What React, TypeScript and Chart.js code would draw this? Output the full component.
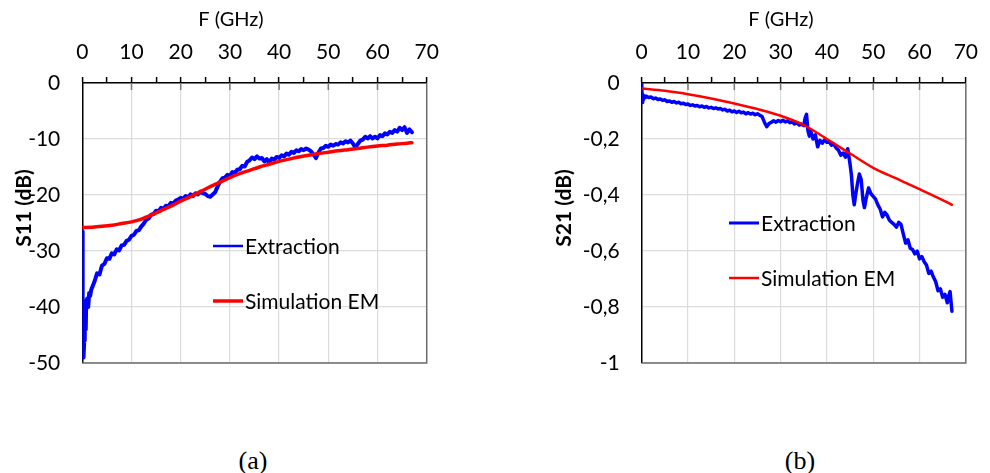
import React, { useEffect, useRef } from 'react';
import { Chart, registerables } from 'chart.js';

Chart.register(...registerables);

// ---------- data ----------
const freqTickLabels = ['0', '10', '20', '30', '40', '50', '60', '70'];
const s11TickLabels = ['0', '-10', '-20', '-30', '-40', '-50'];
const s21TickLabels = ['0', '-0,2', '-0,4', '-0,6', '-0,8', '-1'];
const seriesLabels = ['Extraction', 'Simulation EM'];

// S11 simulation EM [GHz, dB]
const s11Simulation: [number, number][] = [
  [0, -25.8], [2, -25.75], [4, -25.6], [6, -25.4], [8, -25.1], [10, -24.8], [12, -24.3],
  [14, -23.6], [16, -22.8], [18, -22.0], [20, -21.1], [22, -20.3], [24, -19.4], [26, -18.5],
  [28, -17.7], [30, -16.9], [32, -16.2], [34, -15.6], [36, -15.0], [38, -14.5], [40, -14.0],
  [42, -13.6], [44, -13.2], [46, -12.9], [48, -12.6], [50, -12.35], [52, -12.1], [54, -11.9],
  [56, -11.7], [58, -11.45], [60, -11.25], [62, -11.1], [64, -10.9], [66, -10.75], [67, -10.65],
];

// S11 extraction [GHz, dB]
const s11Extraction: [number, number][] = [
  [0, -26.5], [0.05, -30], [0.1, -38], [0.15, -44], [0.2, -48.5], [0.3, -49], [0.4, -46],
  [0.5, -42], [0.6, -40], [0.7, -44], [0.8, -39], [1.0, -38.5], [1.2, -40], [1.4, -37.5],
  [1.6, -38], [1.8, -37], [2, -36.5], [2.5, -35.4], [3, -34.0], [3.5, -34.2], [4, -32.6],
  [4.5, -32.3], [5, -31.3], [5.5, -31.4], [6, -30.4], [6.5, -30.6], [7, -29.7], [7.5, -29.9],
  [8, -29.0], [8.5, -28.9], [9, -28.2], [9.5, -28.0], [10, -27.3], [10.5, -27.1], [11, -26.4],
  [11.5, -26.3], [12, -25.6], [12.5, -25.1], [13, -24.4], [13.5, -24.2], [14, -23.5],
  [14.5, -23.4], [15, -22.8], [15.5, -22.9], [16, -22.3], [16.5, -22.5], [17, -21.9],
  [17.5, -22.0], [18, -21.4], [18.5, -21.5], [19, -21.0], [19.5, -20.8], [20, -20.5],
  [20.5, -20.7], [21, -20.2], [21.5, -20.4], [22, -19.9], [22.5, -20.2], [23, -19.7],
  [23.5, -19.9], [24, -19.4], [24.5, -19.7], [25, -19.8], [25.5, -20.2], [26, -20.3],
  [26.5, -19.9], [27, -19.5], [27.5, -18.5], [28, -17.6], [28.5, -17.0], [29, -16.9],
  [29.5, -16.4], [30, -16.6], [30.5, -15.9], [31, -16.1], [31.5, -15.5], [32, -15.4],
  [32.5, -14.8], [33, -14.9], [33.5, -14.1], [34, -13.8], [34.5, -13.3], [35, -13.6],
  [35.5, -13.1], [36, -13.5], [36.5, -13.4], [37, -14.0], [37.5, -13.6], [38, -14.2],
  [38.5, -13.5], [39, -13.7], [39.5, -13.2], [40, -13.4], [40.5, -12.9], [41, -13.1],
  [41.5, -12.6], [42, -12.8], [42.5, -12.3], [43, -12.5], [43.5, -12.0], [44, -12.2],
  [44.5, -11.8], [45, -12.0], [45.5, -11.7], [46, -11.9], [46.5, -12.2], [47, -12.8],
  [47.5, -13.4], [48, -12.4], [48.5, -11.7], [49, -11.6], [49.5, -11.2], [50, -11.4],
  [50.5, -11.0], [51, -11.2], [51.5, -10.9], [52, -11.0], [52.5, -10.6], [53, -10.8],
  [53.5, -10.4], [54, -10.6], [54.5, -10.3], [55, -10.8], [55.5, -11.5], [56, -10.9],
  [56.5, -10.3], [57, -10.1], [57.5, -9.6], [58, -9.9], [58.5, -9.5], [59, -9.9],
  [59.5, -9.6], [60, -9.9], [60.5, -9.3], [61, -9.5], [61.5, -9.0], [62, -9.2], [62.5, -8.7],
  [63, -8.9], [63.5, -8.4], [64, -8.7], [64.5, -8.0], [65, -8.4], [65.5, -7.9], [66, -8.9],
  [66.5, -8.3], [67, -8.8],
];

// S21 simulation EM [GHz, dB]
const s21Simulation: [number, number][] = [
  [0, -0.02], [5, -0.028], [10, -0.04], [15, -0.055], [20, -0.073], [25, -0.093],
  [30, -0.117], [35, -0.15], [40, -0.2], [45, -0.252], [50, -0.303], [55, -0.341],
  [60, -0.379], [65, -0.418], [67, -0.435],
];

// S21 extraction [GHz, dB]
const s21Extraction: [number, number][] = [
  [0, -0.0], [0.1, -0.07], [0.2, -0.04], [0.3, -0.062], [0.5, -0.045], [0.8, -0.052],
  [1, -0.047], [1.5, -0.052], [2, -0.05], [2.5, -0.056], [3, -0.054], [3.5, -0.059],
  [4, -0.057], [4.5, -0.062], [5, -0.06], [5.5, -0.066], [6, -0.064], [6.5, -0.069],
  [7, -0.066], [7.5, -0.071], [8, -0.069], [8.5, -0.074], [9, -0.072], [9.5, -0.077],
  [10, -0.075], [10.5, -0.08], [11, -0.078], [11.5, -0.082], [12, -0.08], [12.5, -0.085],
  [13, -0.082], [13.5, -0.087], [14, -0.084], [14.5, -0.089], [15, -0.087], [15.5, -0.091],
  [16, -0.089], [16.5, -0.093], [17, -0.091], [17.5, -0.096], [18, -0.094], [18.5, -0.1],
  [19, -0.097], [19.5, -0.103], [20, -0.1], [20.5, -0.105], [21, -0.101], [21.5, -0.106],
  [22, -0.104], [22.5, -0.11], [23, -0.106], [23.5, -0.111], [24, -0.108], [24.5, -0.113],
  [25, -0.11], [25.5, -0.115], [26, -0.12], [26.5, -0.14], [27, -0.156], [27.5, -0.145],
  [28, -0.14], [28.5, -0.135], [29, -0.14], [29.5, -0.134], [30, -0.138], [30.5, -0.133],
  [31, -0.139], [31.5, -0.135], [32, -0.142], [32.5, -0.138], [33, -0.146], [33.5, -0.142],
  [34, -0.15], [34.5, -0.147], [35, -0.152], [35.3, -0.125], [35.6, -0.112], [35.9, -0.17],
  [36.2, -0.19], [36.5, -0.17], [37, -0.2], [37.5, -0.185], [38, -0.228], [38.5, -0.205],
  [39, -0.215], [39.5, -0.203], [40, -0.212], [40.5, -0.21], [41, -0.222], [41.5, -0.218],
  [42, -0.232], [42.5, -0.24], [43, -0.258], [43.5, -0.25], [44, -0.265], [44.5, -0.235],
  [45, -0.29], [45.3, -0.33], [45.6, -0.4], [45.9, -0.435], [46.2, -0.4], [46.6, -0.36],
  [47, -0.325], [47.4, -0.345], [47.8, -0.42], [48.1, -0.445], [48.5, -0.41], [49, -0.375],
  [49.5, -0.395], [50, -0.405], [50.5, -0.415], [51, -0.435], [51.5, -0.45], [52, -0.478],
  [52.5, -0.462], [53, -0.472], [53.5, -0.49], [54, -0.498], [54.5, -0.505], [55, -0.515],
  [55.5, -0.498], [56, -0.505], [56.5, -0.54], [57, -0.572], [57.5, -0.56], [58, -0.59],
  [58.5, -0.595], [59, -0.61], [59.5, -0.6], [60, -0.628], [60.5, -0.62], [61, -0.638],
  [61.5, -0.65], [62, -0.68], [62.5, -0.672], [63, -0.693], [63.5, -0.71], [64, -0.742],
  [64.5, -0.735], [65, -0.765], [65.5, -0.755], [66, -0.785], [66.3, -0.76], [66.6, -0.745],
  [67, -0.815],
];

// ---------- styling / drawing ----------
const FONT = 'Lato, "Open Sans", "DejaVu Sans", sans-serif';
const FONT_SIZE = 21;

const decorPlugin = {
  id: 'decor',
  afterDraw(chart: any, _args: any, opts: any) {
    const ctx = chart.ctx as CanvasRenderingContext2D;
    const { left, right, top, bottom } = chart.chartArea;
    const xs = chart.scales.x;
    ctx.save();
    // bottom / right frame
    ctx.strokeStyle = '#6e6e6e';
    ctx.lineWidth = 1.5;
    ctx.beginPath();
    ctx.moveTo(left, bottom);
    ctx.lineTo(right, bottom);
    ctx.lineTo(right, top);
    ctx.stroke();
    // inner part of major ticks
    ctx.strokeStyle = '#7a7a7a';
    ctx.lineWidth = 1.5;
    for (const t of xs.ticks) {
      if (t.value % 10 === 0 && t.value > 0 && t.value < 70) {
        const px = xs.getPixelForValue(t.value);
        ctx.beginPath();
        ctx.moveTo(px, top);
        ctx.lineTo(px, top + 7);
        ctx.stroke();
      }
    }
    ctx.fillStyle = '#000';
    ctx.textAlign = 'center';
    ctx.textBaseline = 'middle';
    // x title
    ctx.font = `20px ${FONT}`;
    ctx.fillText(opts.xTitle, opts.xTitleX, opts.xTitleY);
    // y title
    ctx.save();
    ctx.translate(opts.yTitleX, opts.yTitleY);
    ctx.rotate(-Math.PI / 2);
    ctx.font = `bold 21px ${FONT}`;
    ctx.fillText(opts.yTitle, 0, 0);
    ctx.restore();
    // legend
    ctx.font = `${FONT_SIZE}px ${FONT}`;
    ctx.textAlign = 'left';
    chart.data.datasets.forEach((ds: any, i: number) => {
      const y = opts.legendY[i];
      ctx.strokeStyle = ds.borderColor;
      ctx.lineWidth = opts.legendWidth[i];
      ctx.beginPath();
      ctx.moveTo(opts.legendX1, y);
      ctx.lineTo(opts.legendX2, y);
      ctx.stroke();
      ctx.fillStyle = '#000';
      ctx.fillText(ds.label, opts.legendTextX, y + 1);
    });
    ctx.restore();
  },
};

interface PanelCfg {
  ext: [number, number][];
  sim: [number, number][];
  extWidth: number;
  simWidth: number;
  yMin: number;
  yStep: number;
  yLabels: string[];
  yAxisWidth: number;
  padRight: number;
  decor: any;
}

function buildChart(canvas: HTMLCanvasElement, p: PanelCfg) {
  return new Chart(canvas, {
    type: 'line',
    data: {
      datasets: [
        {
          label: seriesLabels[0],
          data: p.ext.map(([x, y]) => ({ x, y })),
          borderColor: '#0000ff',
          borderWidth: p.extWidth,
          borderJoinStyle: 'round',
          borderCapStyle: 'round',
          pointRadius: 0,
          tension: 0,
          order: 2,
        },
        {
          label: seriesLabels[1],
          data: p.sim.map(([x, y]) => ({ x, y })),
          borderColor: '#ff0000',
          borderWidth: p.simWidth,
          borderCapStyle: 'round',
          pointRadius: 0,
          cubicInterpolationMode: 'monotone',
          order: 1,
        },
      ],
    },
    options: {
      animation: false,
      responsive: false,
      maintainAspectRatio: false,
      events: [],
      layout: { padding: { left: 0, top: 0, right: p.padRight, bottom: 37 } },
      plugins: {
        legend: { display: false },
        tooltip: { enabled: false },
        decor: p.decor,
      } as any,
      scales: {
        x: {
          type: 'linear',
          position: 'top',
          min: 0,
          max: 70,
          afterFit: (s: any) => {
            s.height = 83;
          },
          ticks: {
            stepSize: 5,
            autoSkip: false,
            maxRotation: 0,
            padding: 12,
            color: '#000',
            font: { family: FONT, size: FONT_SIZE },
            callback: (v: any) => (Number(v) % 10 === 0 ? freqTickLabels[Math.round(Number(v) / 10)] : ''),
          },
          grid: {
            color: (c: any) => (c.tick && c.tick.value % 10 === 0 ? '#dcdcdc' : 'rgba(0,0,0,0)'),
            lineWidth: 1.2,
            drawTicks: true,
            tickLength: 6,
            tickColor: '#000',
            tickWidth: 1.5,
          },
          border: { color: '#000', width: 1.5 },
        },
        y: {
          type: 'linear',
          min: p.yMin,
          max: 0,
          afterFit: (s: any) => {
            s.width = p.yAxisWidth;
          },
          ticks: {
            stepSize: p.yStep,
            padding: 22,
            color: '#000',
            font: { family: FONT, size: FONT_SIZE },
            callback: (v: any) => p.yLabels[Math.round(-Number(v) / p.yStep)],
          },
          grid: { color: '#dcdcdc', lineWidth: 1.2, drawTicks: false },
          border: { color: '#000', width: 1.5 },
        },
      },
    } as any,
    plugins: [decorPlugin as any],
  });
}

export default function App() {
  const leftRef = useRef<HTMLCanvasElement>(null);
  const rightRef = useRef<HTMLCanvasElement>(null);

  useEffect(() => {
    const left = buildChart(leftRef.current!, {
      ext: s11Extraction,
      sim: s11Simulation,
      extWidth: 4,
      simWidth: 3.5,
      yMin: -50,
      yStep: 10,
      yLabels: s11TickLabels,
      yAxisWidth: 82.3,
      padRight: 495 - 426.7,
      decor: {
        xTitle: 'F (GHz)',
        xTitleX: 231,
        xTitleY: 20,
        yTitle: 'S11 (dB)',
        yTitleX: 24,
        yTitleY: 208,
        legendX1: 213,
        legendX2: 243,
        legendTextX: 245,
        legendY: [246, 301],
        legendWidth: [2.5, 3.5],
      },
    });
    const right = buildChart(rightRef.current!, {
      ext: s21Extraction,
      sim: s21Simulation,
      extWidth: 3.5,
      simWidth: 2.5,
      yMin: -1,
      yStep: 0.2,
      yLabels: s21TickLabels,
      yAxisWidth: 146.7,
      padRight: 495 - 480.7,
      decor: {
        xTitle: 'F (GHz)',
        xTitleX: 286,
        xTitleY: 20,
        yTitle: 'S21 (dB)',
        yTitleX: 69,
        yTitleY: 208,
        legendX1: 234,
        legendX2: 264,
        legendTextX: 266,
        legendY: [223, 278],
        legendWidth: [3, 2.5],
      },
    });
    return () => {
      left.destroy();
      right.destroy();
    };
  }, []);

  const capStyle: React.CSSProperties = {
    position: 'absolute',
    top: 446,
    width: 60,
    textAlign: 'center',
    fontFamily: '"Liberation Serif", "Times New Roman", serif',
    fontSize: 26,
    lineHeight: '30px',
    color: '#000',
  };

  return (
    <div style={{ position: 'absolute', left: 0, top: 0, width: 990, height: 473, background: '#fff' }}>
      <canvas ref={leftRef} width={495} height={400} style={{ position: 'absolute', left: 0, top: 0, width: 495, height: 400 }} />
      <canvas ref={rightRef} width={495} height={400} style={{ position: 'absolute', left: 495, top: 0, width: 495, height: 400 }} />
      <div style={{ ...capStyle, left: 253 - 30 }}>(a)</div>
      <div style={{ ...capStyle, left: 800 - 30 }}>(b)</div>
    </div>
  );
}
